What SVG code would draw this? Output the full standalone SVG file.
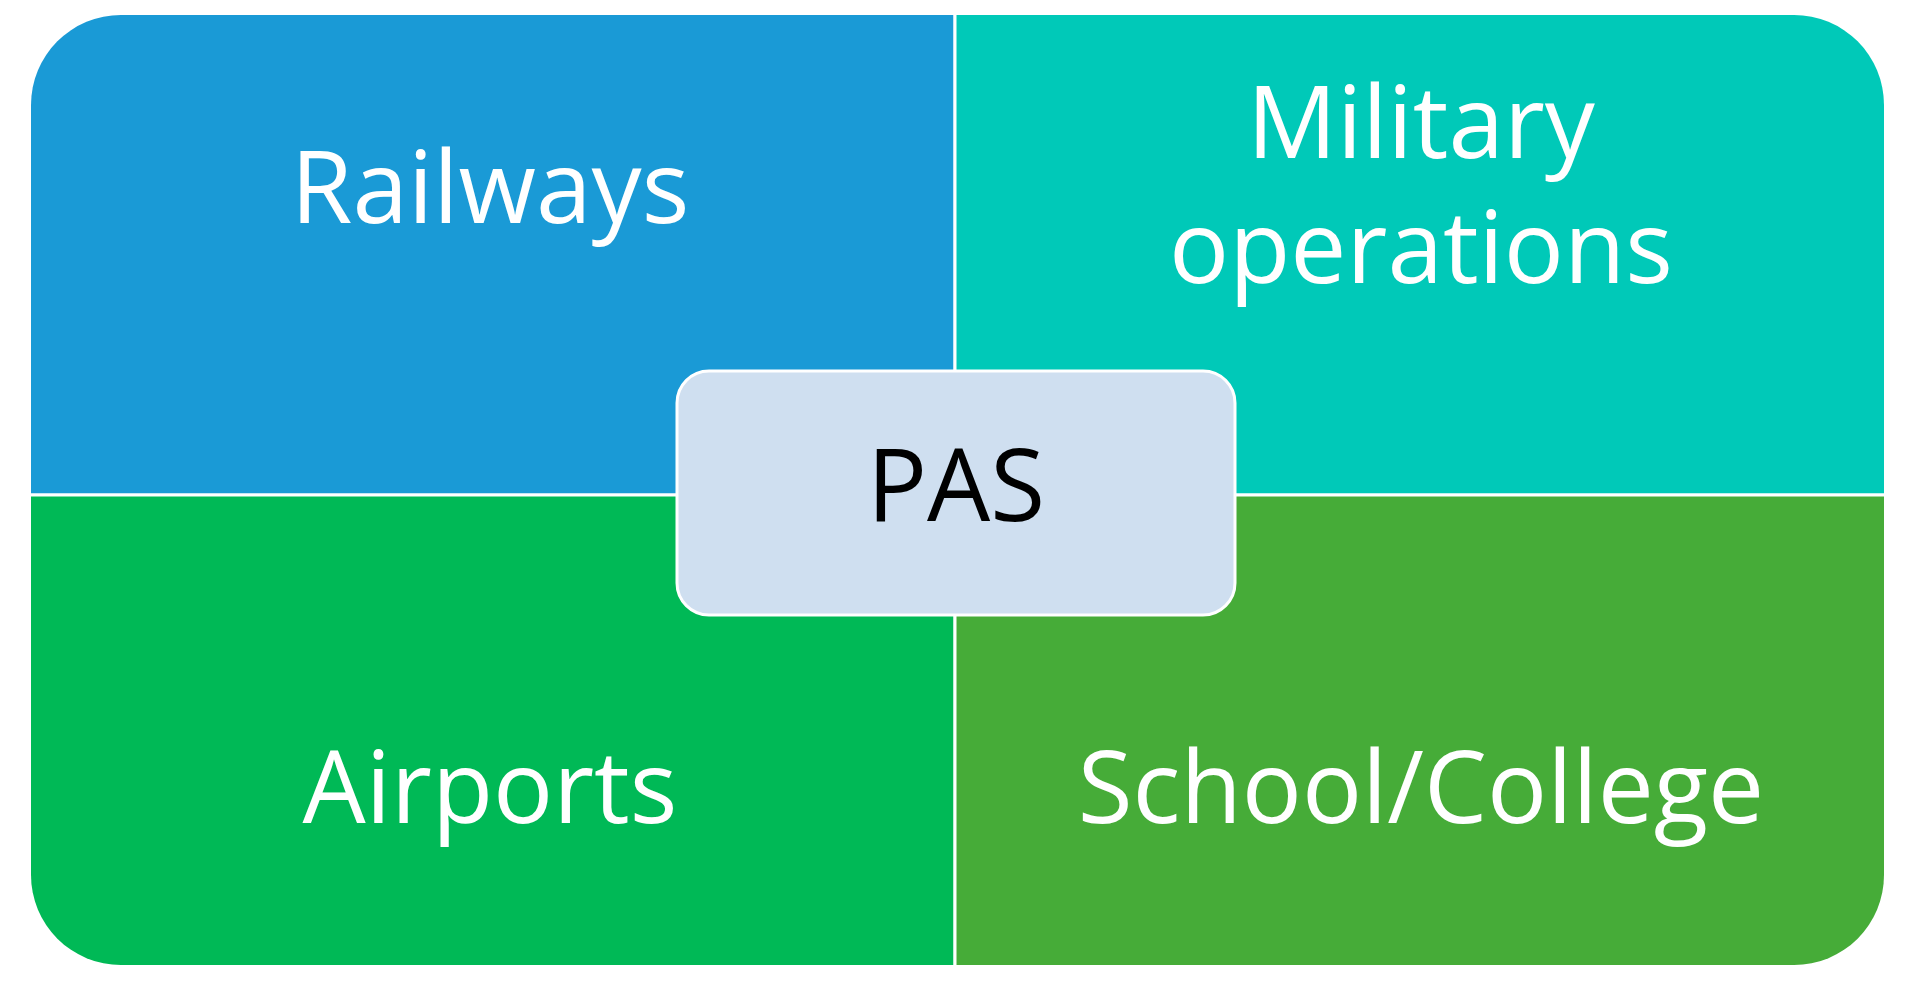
<svg xmlns="http://www.w3.org/2000/svg" width="1915" height="985" viewBox="0 0 1915 985">
<defs><style>
.t{font-family:"Open Sans","Liberation Sans",sans-serif;fill:#fff;text-anchor:middle;font-size:100px;font-weight:500}
.q{stroke:#fff;stroke-width:3}
</style>
<clipPath id="c"><rect x="31" y="15" width="1853" height="950" rx="90"/></clipPath></defs>
<rect width="1915" height="985" fill="#fff"/>
<g clip-path="url(#c)">
<g id="railways"><rect class="q" x="29" y="13" width="926" height="482" fill="#1a9ad6"/><text class="t" x="490" y="223">Railways</text></g>
<g id="military"><rect class="q" x="955" y="13" width="931" height="482" fill="#00c9b8"/><text class="t" x="1421" y="158">Military</text><text class="t" x="1421" y="283">operations</text></g>
<g id="airports"><rect class="q" x="29" y="495" width="926" height="472" fill="#00b956"/><text class="t" x="490" y="823">Airports</text></g>
<g id="school"><rect class="q" x="955" y="495" width="931" height="472" fill="#46ac38"/><text class="t" x="1421" y="823">School/College</text></g>
</g>
<g id="pas"><rect x="677" y="371" width="558" height="244" rx="32" fill="#cfdff0" stroke="#fff" stroke-width="3"/><text class="t" x="956" y="521" style="fill:#000">PAS</text></g>
<g id="connectors"/>
</svg>
